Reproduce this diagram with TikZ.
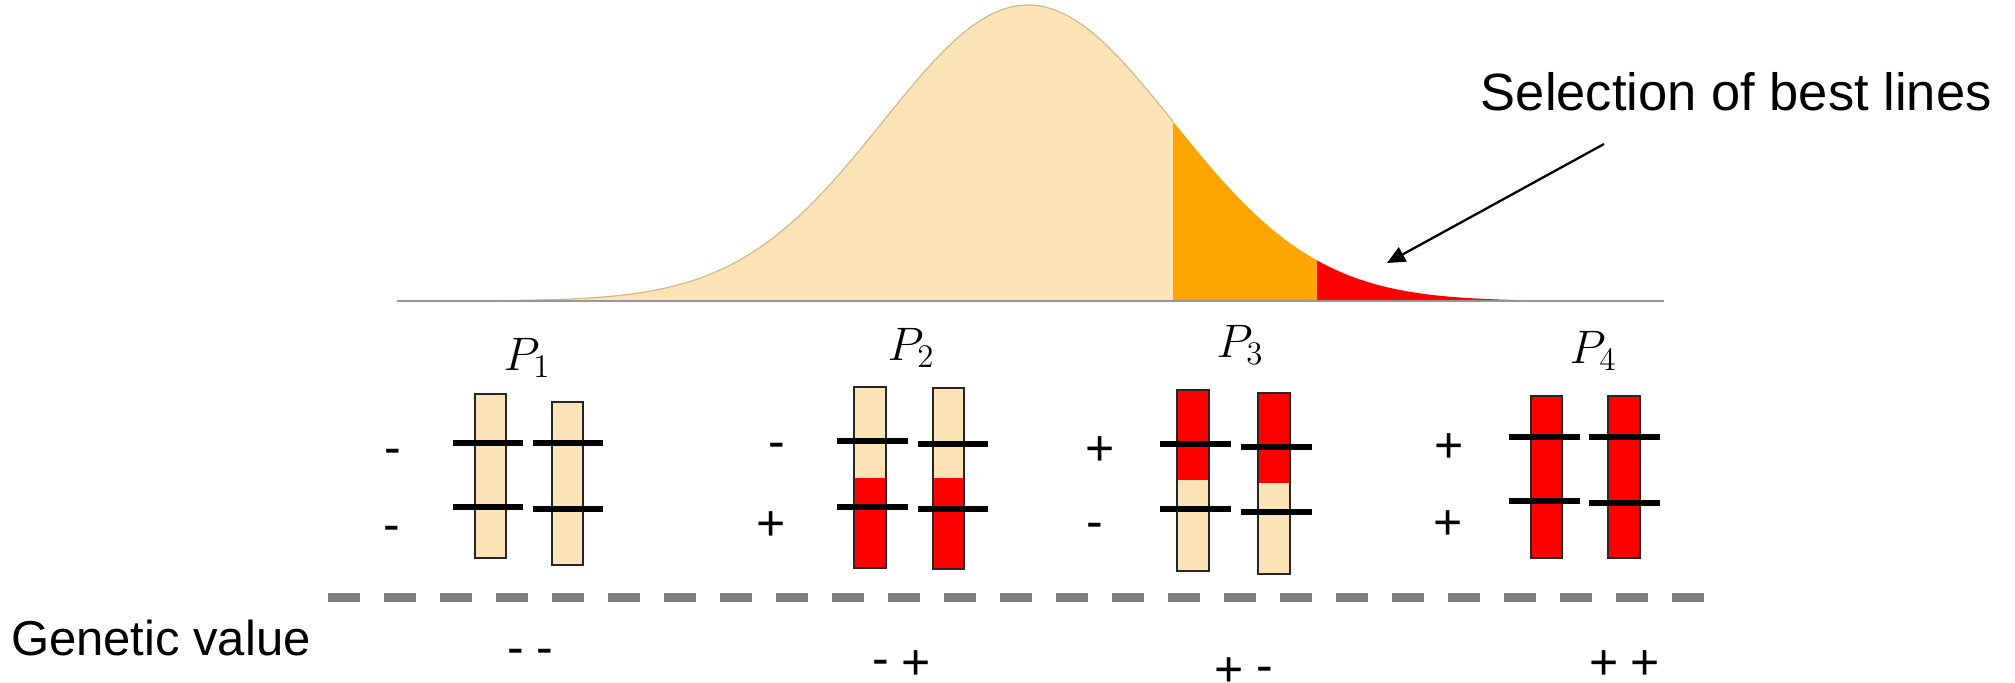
\documentclass[tikz,border=0pt]{standalone}
\usepackage{fix-cm}
\usepackage{fontspec}
\setmainfont{Liberation Sans}
\usetikzlibrary{arrows.meta}
\definecolor{beige}{RGB}{252,228,182}
\definecolor{selorange}{RGB}{255,165,0}
\definecolor{selred}{RGB}{255,0,0}
\definecolor{dashgrey}{RGB}{128,128,128}
\definecolor{axisgrey}{RGB}{150,150,150}
\definecolor{curveedge}{RGB}{212,184,138}
\begin{document}
\begin{tikzpicture}[x=0.5pt,y=-0.5pt,
  declare function={gauss(\t)=301-296*exp(-0.5*((\t-1028)/145)*((\t-1028)/145));},
  sign/.style={inner sep=0pt, outer sep=0pt, anchor=base, font=\fontsize{25}{30}\selectfont},
  plabel/.style={inner sep=0pt, outer sep=0pt, anchor=base, font=\fontsize{23.5}{28}\selectfont},
  bandline/.style={line width=3pt, black},
  barbox/.style={draw=black!85, line width=0.6pt}]
\useasboundingbox (0,0) rectangle (2015,682);

% distribution
\fill[beige] (448,301) -- plot[domain=448:1173,samples=150] (\x,{gauss(\x)}) -- (1173,301) -- cycle;
\fill[selorange] (1173,301) -- plot[domain=1173:1317,samples=40] (\x,{gauss(\x)}) -- (1317,301) -- cycle;
\fill[selred] (1317,301) -- plot[domain=1317:1608,samples=60] (\x,{gauss(\x)}) -- (1608,301) -- cycle;
\draw[curveedge, line width=0.6pt] plot[domain=448:1173,samples=150] (\x,{gauss(\x)});
\coordinate (axL) at (397,301);
\coordinate (axR) at (1664,301);
\draw[axisgrey, line width=1pt] (axL) -- (axR);

% annotation
\node[anchor=base west, inner sep=0pt, font=\fontsize{26.25}{31}\selectfont] (sel) at (1480.5,110) {Selection of best lines};
\coordinate (arrtail) at (1604,144);
\coordinate (arrtip) at (1387,263);
\draw[line width=1.15pt, -{Triangle[length=9pt,width=8pt]}] (arrtail) -- (arrtip);

% P labels
\node[plabel] (p1) at (527,370) {$P_1$};
\node[plabel] (p2) at (911,360) {$P_2$};
\node[plabel] (p3) at (1240,357) {$P_3$};
\node[plabel] (p4) at (1593,363) {$P_4$};

% P1 chromosomes
\fill[beige] (475,394) rectangle (506,558);
\draw[barbox] (475,394) rectangle (506,558);
\fill[beige] (552,402) rectangle (583,565);
\draw[barbox] (552,402) rectangle (583,565);
\draw[bandline] (453,443) -- (523,443);
\draw[bandline] (453,507) -- (523,507);
\draw[bandline] (533,443) -- (603,443);
\draw[bandline] (533,509) -- (603,509);

% P2 chromosomes
\fill[beige] (854,387) rectangle (886,478);
\fill[selred] (854,478) rectangle (886,568);
\draw[barbox] (854,387) rectangle (886,568);
\fill[beige] (933,388) rectangle (964,478);
\fill[selred] (933,478) rectangle (964,569);
\draw[barbox] (933,388) rectangle (964,569);
\draw[bandline] (837,441) -- (908,441);
\draw[bandline] (837,507) -- (908,507);
\draw[bandline] (918,444) -- (988,444);
\draw[bandline] (918,509) -- (988,509);

% P3 chromosomes
\fill[selred] (1177,390) rectangle (1209,480);
\fill[beige] (1177,480) rectangle (1209,571);
\draw[barbox] (1177,390) rectangle (1209,571);
\fill[selred] (1258,393) rectangle (1290,483);
\fill[beige] (1258,483) rectangle (1290,574);
\draw[barbox] (1258,393) rectangle (1290,574);
\draw[bandline] (1160,444) -- (1231,444);
\draw[bandline] (1160,509) -- (1231,509);
\draw[bandline] (1241,447) -- (1312,447);
\draw[bandline] (1241,512) -- (1312,512);

% P4 chromosomes
\fill[selred] (1531,396) rectangle (1562,558);
\draw[barbox] (1531,396) rectangle (1562,558);
\fill[selred] (1608,396) rectangle (1640,558);
\draw[barbox] (1608,396) rectangle (1640,558);
\draw[bandline] (1509,437) -- (1580,437);
\draw[bandline] (1509,501) -- (1580,501);
\draw[bandline] (1589,437) -- (1660,437);
\draw[bandline] (1589,503) -- (1660,503);

% allele signs
\node[sign] (s1a) at (392.5,464.5) {-};
\node[sign] (s1b) at (392,541.5) {-};
\node[sign] (s2a) at (776.5,458.5) {-};
\node[sign] (s2b) at (771.5,540.5) {+};
\node[sign] (s3a) at (1100.5,465.5) {+};
\node[sign] (s3b) at (1095,538.5) {-};
\node[sign] (s4a) at (1449.5,462.5) {+};
\node[sign] (s4b) at (1448.5,539.5) {+};

% separator
\coordinate (dL) at (328,597);
\coordinate (dR) at (1704,597);
\draw[dashgrey, line width=4.5pt, dash pattern=on 16pt off 12pt] (dL) -- (dR);

% genetic values
\node[anchor=base west, inner sep=0pt, font=\fontsize{24.5}{29}\selectfont] (gv) at (10.6,655) {Genetic value};
\node[sign] (g1a) at (516,664.5) {-};
\node[sign] (g1b) at (545,664.5) {-};
\node[sign] (g2a) at (881,675.5) {-};
\node[sign] (g2b) at (916.5,679.5) {+};
\node[sign] (g3a) at (1229.5,686.5) {+};
\node[sign] (g3b) at (1265,682.5) {-};
\node[sign] (g4a) at (1604,679.5) {+};
\node[sign] (g4b) at (1645,679.5) {+};
\end{tikzpicture}
\end{document}
